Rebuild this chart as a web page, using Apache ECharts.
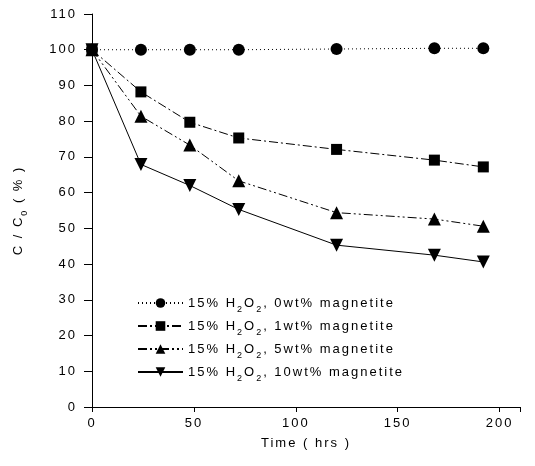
<!DOCTYPE html>
<html>
<head>
<meta charset="utf-8">
<script src="https://cdn.jsdelivr.net/npm/echarts@6/dist/echarts.min.js"></script>
<style>
  html, body { margin: 0; padding: 0; background: #fff; }
  #chart { width: 535px; height: 466px; }
</style>
</head>
<body>
<div id="chart"></div>
<script>
// Sampling times (hours)
const times = [0, 24, 48, 72, 120, 168, 192];

// Remaining concentration C/C0 (%) for each magnetite loading
const mag0 = [100, 100, 100, 100, 100.2, 100.4, 100.4];
const mag1 = [100, 88.2, 79.7, 75.3, 72.1, 69.1, 67.2];
const mag5 = [100, 81.4, 73.3, 63.3, 54.4, 52.6, 50.6];
const mag10 = [100, 67.9, 62.0, 55.3, 45.3, 42.5, 40.6];

const seriesNames = ['0wt%', '1wt%', '5wt%', '10wt%'];
const xTicks = [0, 50, 100, 150, 200];
const yTicks = [0, 10, 20, 30, 40, 50, 60, 70, 80, 90, 100, 110];

const FONT = '"Liberation Sans", Arial, sans-serif';

// Wide letter tracking for all chart text (applied to both drawing and
// measuring so that label layout stays consistent).
(function () {
  const TRACKING = '2px';
  const proto = CanvasRenderingContext2D.prototype;
  const fill = proto.fillText;
  const stroke = proto.strokeText;
  const measure = proto.measureText;
  proto.fillText = function () { this.letterSpacing = TRACKING; return fill.apply(this, arguments); };
  proto.strokeText = function () { this.letterSpacing = TRACKING; return stroke.apply(this, arguments); };
  proto.measureText = function () { this.letterSpacing = TRACKING; return measure.apply(this, arguments); };
})();

function pairs(ys) {
  return times.map((t, i) => [t, ys[i]]);
}

function makeSeries(idx, ys, symbol, rotate, size, dash) {
  return {
    name: seriesNames[idx],
    type: 'line',
    data: pairs(ys),
    symbol: symbol,
    symbolRotate: rotate,
    symbolSize: size,
    showAllSymbol: true,
    itemStyle: { color: '#000' },
    lineStyle: { color: '#000', width: 1, type: dash },
    emphasis: { disabled: true },
    animation: false
  };
}

const subRich = {
  n: { fontFamily: FONT, fontSize: 13, color: '#000', lineHeight: 16, verticalAlign: 'bottom' },
  s: { fontFamily: FONT, fontSize: 9, color: '#000', lineHeight: 16, verticalAlign: 'bottom', padding: [0, 0, -4, 0] }
};

// One legend block per row, stacked at a fixed pitch
const LEGEND_TOP = 291;
const LEGEND_PITCH = 23;
const legends = seriesNames.map((name, i) => ({
  show: true,
  orient: 'vertical',
  left: 132,
  top: LEGEND_TOP + i * LEGEND_PITCH,
  itemWidth: 45,
  itemHeight: 12,
  selectedMode: false,
  textStyle: { color: '#000', fontFamily: FONT, fontSize: 13, rich: subRich },
  formatter: n => '{n|15% H}{s|2}{n|O}{s|2}{n|, ' + n + ' magnetite}',
  data: [name]
}));

const chart = echarts.init(document.getElementById('chart'), null, { renderer: 'canvas' });

chart.setOption({
  animation: false,
  backgroundColor: '#fff',
  grid: { left: 92, right: 15, top: 14, bottom: 59, containLabel: false },
  xAxis: {
    type: 'value',
    min: 0,
    max: 210,
    interval: 50,
    name: 'Time ( hrs )',
    nameLocation: 'middle',
    nameGap: 28,
    nameTextStyle: { color: '#000', fontFamily: FONT, fontSize: 13 },
    axisLine: { lineStyle: { color: '#000', width: 1 } },
    axisTick: { show: true, inside: false, length: 5, lineStyle: { color: '#000' } },
    axisLabel: {
      color: '#000', fontFamily: FONT, fontSize: 13, margin: 9,
      formatter: v => (xTicks.indexOf(v) >= 0 ? String(v) : '')
    },
    splitLine: { show: false }
  },
  yAxis: {
    type: 'value',
    min: 0,
    max: 110,
    interval: 10,
    name: '{n|C / C}{s|0}{n| ( % )}',
    nameLocation: 'middle',
    nameGap: 66,
    nameRotate: 90,
    nameTextStyle: { color: '#000', fontFamily: FONT, fontSize: 13, rich: subRich },
    axisLine: { lineStyle: { color: '#000', width: 1 } },
    axisTick: { show: true, inside: false, length: 8, lineStyle: { color: '#000' } },
    axisLabel: {
      color: '#000', fontFamily: FONT, fontSize: 13, margin: 15,
      formatter: v => (yTicks.indexOf(v) >= 0 ? String(v) : '')
    },
    splitLine: { show: false }
  },
  legend: legends,
  series: [
    makeSeries(0, mag0, 'circle', 0, 12, [1, 3]),
    makeSeries(1, mag1, 'rect', 0, 11, [9, 3, 2, 3]),
    makeSeries(2, mag5, 'triangle', 0, 13, [9, 3, 2, 3, 2, 3]),
    makeSeries(3, mag10, 'triangle', 180, 13, 'solid')
  ]
});
</script>
</body>
</html>
